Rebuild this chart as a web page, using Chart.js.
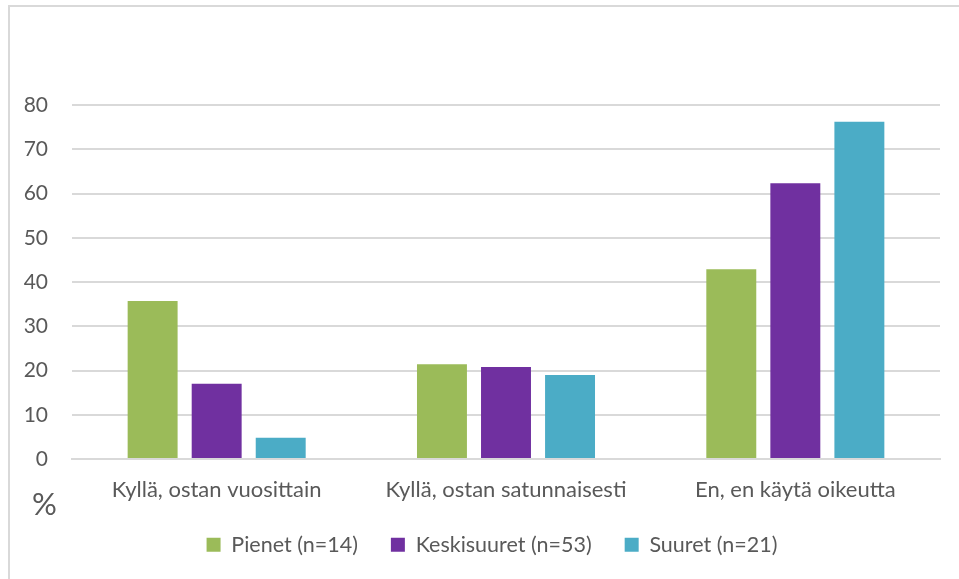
<!DOCTYPE html>
<html>
<head>
<meta charset="utf-8">
<script src="https://cdn.jsdelivr.net/npm/chart.js@4/dist/chart.umd.min.js"></script>
<style>
  body { margin: 0; background: #fff; }
  #wrap { position: relative; width: 959px; height: 579px; }
  #frame { position: absolute; left: 8px; top: 5px; right: 0; bottom: 0;
           border-left: 2px solid #d9d9d9; border-top: 2px solid #d9d9d9; }
  #pct { position: absolute; left: 32px; top: 484px; font: 31px Lato, sans-serif; color: #595959; }
  canvas { position: absolute; left: 0; top: 0; }
</style>
</head>
<body>
<div id="wrap">
  <div id="frame"></div>
  <canvas id="chart" width="959" height="579"></canvas>
  <div id="pct">%</div>
</div>
<script>
// ============================
// DATA
// ============================
const categories = ['Kyllä, ostan vuosittain', 'Kyllä, ostan satunnaisesti', 'En, en käytä oikeutta'];
const pienet = [35.7, 21.4, 42.9];
const keskisuuret = [17.0, 20.8, 62.3];
const suuret = [4.8, 19.0, 76.2];
const seriesNames = ['Pienet (n=14)', 'Keskisuuret (n=53)', 'Suuret (n=21)'];
const colors = ['#9BBB59', '#7030A0', '#4BACC6'];

const grey = '#595959';

// legenda hieman oikealle, kuten alkuperäisessä
const shiftLegend = {
  id: 'shiftLegend',
  afterLayout(chart) {
    chart.legend.left += 11;
    chart.legend.right += 11;
  }
};

new Chart(document.getElementById('chart'), {
  type: 'bar',
  data: {
    labels: categories,
    datasets: [pienet, keskisuuret, suuret].map((d, i) => ({
      label: seriesNames[i],
      data: d,
      backgroundColor: colors[i],
      categoryPercentage: 0.664,
      barPercentage: 0.78
    }))
  },
  options: {
    responsive: false,
    animation: false,
    layout: { padding: { top: 105, left: 22, right: 19, bottom: 16 } },
    scales: {
      x: {
        afterFit: s => { s.height = 42; },
        grid: { display: false, drawTicks: false },
        border: { color: '#d9d9d9', width: 2 },
        ticks: { color: grey, font: { family: 'Lato', size: 22, lineHeight: 1.0 }, padding: 20 }
      },
      y: {
        min: 0, max: 80,
        afterFit: s => { s.width = 50; },
        grid: { color: '#d9d9d9', lineWidth: 2, drawTicks: false },
        border: { display: false },
        ticks: { stepSize: 10, color: grey, font: { family: 'Lato', size: 21 }, padding: 24 }
      }
    },
    plugins: {
      legend: {
        position: 'bottom',
        maxHeight: 62,
        labels: { color: grey, font: { family: 'Lato', size: 21.5 }, boxWidth: 14, boxHeight: 14, padding: 33 }
      },
      tooltip: { enabled: false }
    }
  },
  plugins: [shiftLegend]
});
</script>
</body>
</html>
